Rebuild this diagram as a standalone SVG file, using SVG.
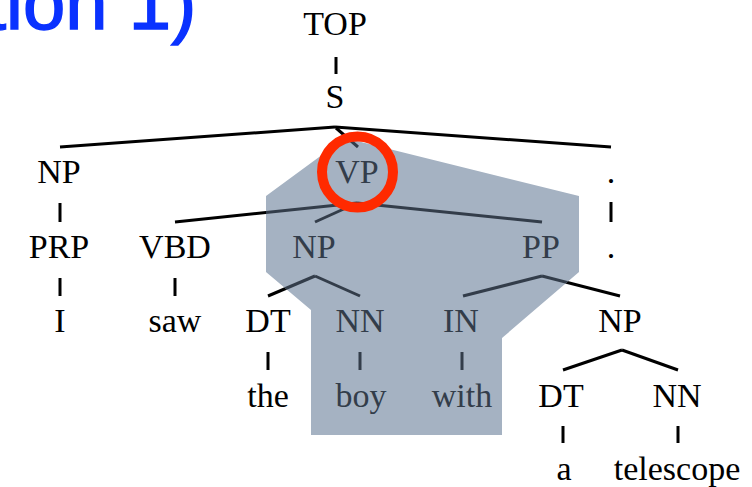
<svg xmlns="http://www.w3.org/2000/svg" xmlns:xlink="http://www.w3.org/1999/xlink" width="752" height="487" viewBox="0 0 752 487">
<style>
.t{font-family:"Liberation Serif","DejaVu Serif",serif;font-size:34px;text-anchor:middle;fill:currentColor}
.c line{stroke:currentColor;stroke-width:3;stroke-linecap:butt}
.title{font-family:"Liberation Sans","DejaVu Sans",sans-serif;font-size:76px;fill:#0a32ff;stroke:#0a32ff;stroke-width:1.5}
</style>
<defs>
<clipPath id="shadeClip">
<polygon points="266,196 345,138 579,196 579,272 502,338 502,435 311,435 311,310 266,272"/>
</clipPath>
</defs>
<rect width="752" height="487" fill="#fff"/>
<text class="title" x="-15" y="29">tion 1)</text>
<g color="#000">
<g id="tree">
<g id="connectors" class="c">
<line x1="336" y1="57" x2="336" y2="74"/>
<line x1="335" y1="127" x2="60" y2="147"/>
<line x1="335" y1="127" x2="611" y2="147"/>
<line x1="336" y1="128" x2="358" y2="147"/>
<line x1="60" y1="203" x2="60" y2="222"/>
<line x1="60" y1="278" x2="60" y2="296"/>
<line x1="175" y1="278" x2="175" y2="296"/>
<line x1="611" y1="202" x2="611" y2="222"/>
<line x1="357" y1="203" x2="175" y2="222"/>
<line x1="357" y1="203" x2="315" y2="222"/>
<line x1="357" y1="203" x2="542" y2="222"/>
<line x1="315" y1="276" x2="268" y2="296"/>
<line x1="315" y1="276" x2="360" y2="296"/>
<line x1="542" y1="276" x2="463" y2="296"/>
<line x1="542" y1="276" x2="620" y2="296"/>
<line x1="268" y1="352" x2="268" y2="370"/>
<line x1="360" y1="352" x2="360" y2="370"/>
<line x1="462" y1="352" x2="462" y2="370"/>
<line x1="622" y1="350" x2="563" y2="370"/>
<line x1="622" y1="350" x2="678" y2="370"/>
<line x1="563" y1="426" x2="563" y2="443"/>
<line x1="678" y1="426" x2="678" y2="443"/>
</g>
<g id="n-top"><text class="t" x="335" y="35">TOP</text></g>
<g id="n-s"><text class="t" x="335" y="108">S</text></g>
<g id="n-np1"><text class="t" x="59" y="183">NP</text></g>
<g id="n-vp"><text class="t" x="357" y="183">VP</text></g>
<g id="n-dot1"><text class="t" x="611" y="183">.</text></g>
<g id="n-prp"><text class="t" x="59" y="258">PRP</text></g>
<g id="n-vbd"><text class="t" x="175" y="258">VBD</text></g>
<g id="n-np2"><text class="t" x="314" y="258">NP</text></g>
<g id="n-pp"><text class="t" x="541" y="258">PP</text></g>
<g id="n-dot2"><text class="t" x="611" y="258">.</text></g>
<g id="n-i"><text class="t" x="60" y="332">I</text></g>
<g id="n-saw"><text class="t" x="175" y="332">saw</text></g>
<g id="n-dt1"><text class="t" x="268" y="332">DT</text></g>
<g id="n-nn1"><text class="t" x="360" y="332">NN</text></g>
<g id="n-in"><text class="t" x="461" y="332">IN</text></g>
<g id="n-np3"><text class="t" x="620" y="332">NP</text></g>
<g id="n-the"><text class="t" x="268" y="407">the</text></g>
<g id="n-boy"><text class="t" x="361" y="407">boy</text></g>
<g id="n-with"><text class="t" x="462" y="407">with</text></g>
<g id="n-dt2"><text class="t" x="561" y="407">DT</text></g>
<g id="n-nn2"><text class="t" x="677" y="407">NN</text></g>
<g id="n-a"><text class="t" x="564" y="480">a</text></g>
<g id="n-telescope"><text class="t" x="677" y="480">telescope</text></g>
</g>
</g>
<polygon id="shade" points="266,196 345,138 579,196 579,272 502,338 502,435 311,435 311,310 266,272" fill="#a5b2c2"/>
<use xlink:href="#tree" href="#tree" color="#333d4a" clip-path="url(#shadeClip)"/>
<circle id="highlight" cx="357.5" cy="172" r="35.5" fill="none" stroke="#ff2a00" stroke-width="10"/>
</svg>
